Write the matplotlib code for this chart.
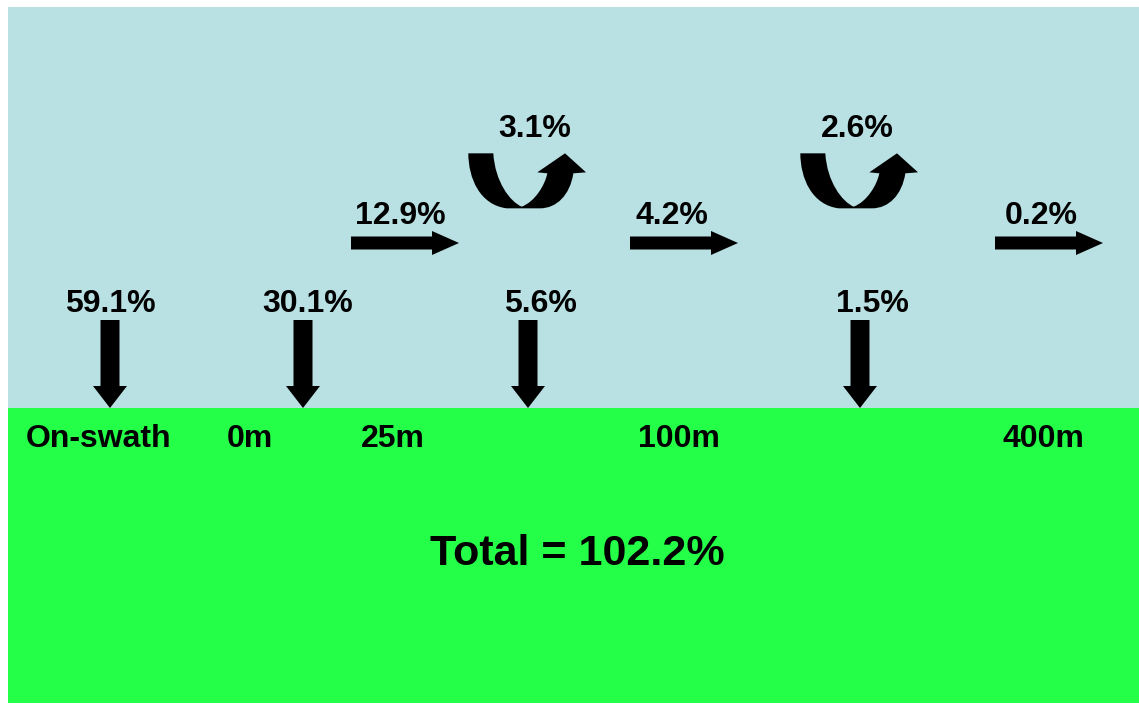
import matplotlib.pyplot as plt
from matplotlib.patches import Rectangle, FancyArrow, PathPatch
from matplotlib.path import Path

# data
places = ['On-swath', '0m', '25m', '100m', '400m']
deposit = [59.1, 30.1, 5.6, 1.5]        # falling down at each zone
drift = [12.9, 4.2, 0.2]                # carried further downwind
uplift = [3.1, 2.6]                     # lifted back up
total = 102.2

# layout (pixel coords, y down)
place_x = [99, 250, 393, 679, 1043]
dep_x = [110, 303, 528, 860]
dep_lbl_x = [110, 308, 540, 872]
drift_x0 = [351, 630, 995]
drift_lbl_x = [400, 672, 1041]
up_x0 = [460, 792]
up_lbl_x = [535, 857]

W, H = 1139, 704
fig = plt.figure(figsize=(W / 100, H / 100), dpi=100)
ax = fig.add_axes([0, 0, 1, 1])
ax.set_xlim(0, W)
ax.set_ylim(H, 0)
ax.axis('off')

sky = '#b9e0e3'
ground = '#24ff48'
ax.add_patch(Rectangle((8, 7), W - 8, 401, color=sky, lw=0))
ax.add_patch(Rectangle((8, 408), W - 8, 295, color=ground, lw=0))

font = dict(family=['Liberation Sans', 'DejaVu Sans'], fontweight='bold',
            ha='center', va='center', color='black')

for name, x in zip(places, place_x):
    ax.text(x, 439, name, fontsize=23, **font)

ax.text(577, 554, 'Total = %.1f%%' % total, fontsize=31, **font)

# downward arrows
for v, x, lx in zip(deposit, dep_x, dep_lbl_x):
    ax.add_patch(FancyArrow(x, 320, 0, 88, width=19, head_width=34,
                            head_length=22, length_includes_head=True,
                            color='black', lw=0))
    ax.text(lx, 304, '%.1f%%' % v, fontsize=23, **font)

# sideways arrows
for v, x, lx in zip(drift, drift_x0, drift_lbl_x):
    ax.add_patch(FancyArrow(x, 243, 108, 0, width=13, head_width=24,
                            head_length=27, length_includes_head=True,
                            color='black', lw=0))
    ax.text(lx, 216, '%.1f%%' % v, fontsize=23, **font)

# curved u-turn arrows, shape traced in thirds of a pixel
shape = [
    ((25, 25), Path.MOVETO),
    ((100, 25), Path.LINETO),
    ((105, 110), Path.CURVE4), ((150, 170), Path.CURVE4), ((185, 185), Path.CURVE4),
    ((225, 170), Path.CURVE4), ((255, 120), Path.CURVE4), ((262, 85), Path.CURVE4),
    ((232, 82), Path.LINETO),
    ((315, 25), Path.LINETO),
    ((378, 82), Path.LINETO),
    ((340, 85), Path.LINETO),
    ((330, 150), Path.CURVE4), ((290, 190), Path.CURVE4), ((240, 190), Path.CURVE4),
    ((140, 190), Path.LINETO),
    ((60, 180), Path.CURVE4), ((25, 100), Path.CURVE4), ((25, 25), Path.CURVE4),
    ((25, 25), Path.CLOSEPOLY),
]
for v, x0, lx in zip(uplift, up_x0, up_lbl_x):
    verts = [(x0 + px / 3, 145 + py / 3) for (px, py), _ in shape]
    codes = [c for _, c in shape]
    ax.add_patch(PathPatch(Path(verts, codes), facecolor='black', lw=0))
    ax.text(lx, 129, '%.1f%%' % v, fontsize=23, **font)

fig.savefig('out.png', dpi=100, facecolor='white')
